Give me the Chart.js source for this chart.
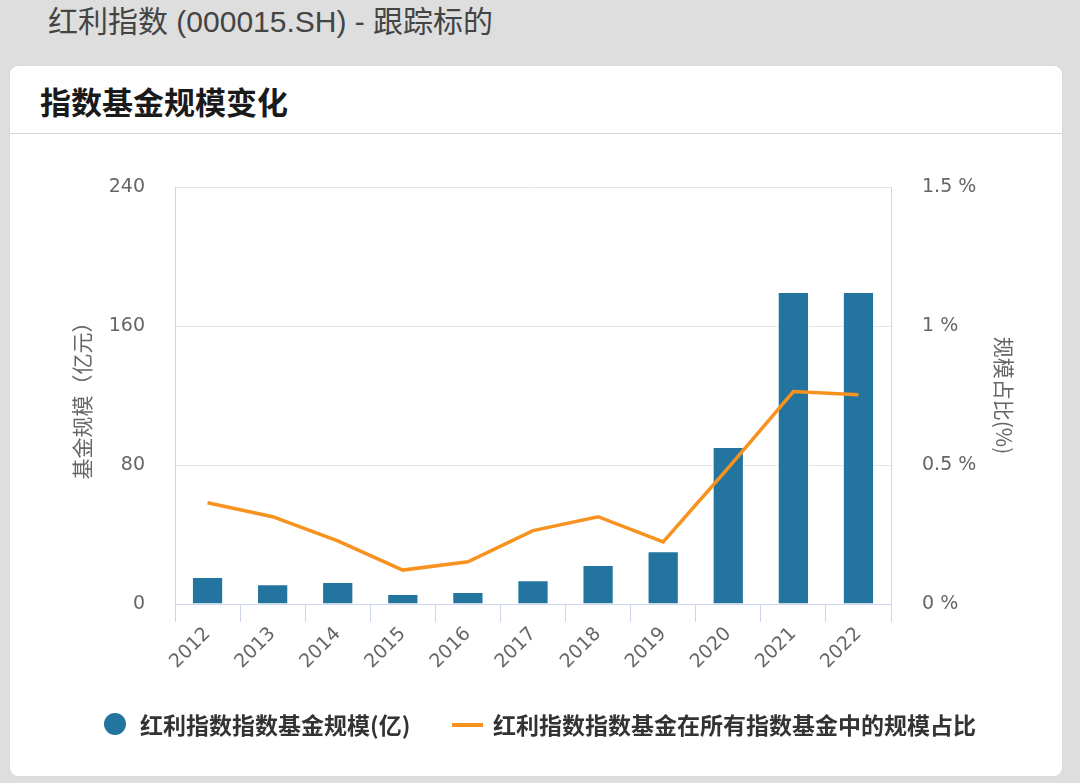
<!DOCTYPE html>
<html><head><meta charset="utf-8">
<script src="https://cdn.jsdelivr.net/npm/chart.js@4.4.1/dist/chart.umd.min.js"></script>
<style>
html,body{margin:0;padding:0;}
body{width:1080px;height:783px;background:#dedede;position:relative;overflow:hidden;font-family:"Liberation Sans","Noto Sans CJK SC",sans-serif;}
#top{position:absolute;left:48px;top:3px;font-size:30px;color:#444;line-height:38px;white-space:nowrap;}
#card{position:absolute;left:10px;top:66px;width:1052px;height:710px;background:#fff;border-radius:8px;box-shadow:0 0 2px rgba(0,0,0,0.08);}
#ctitle{position:absolute;left:30px;top:15px;font-size:31px;font-weight:bold;color:#1a1a1a;font-family:"Noto Sans CJK SC",sans-serif;line-height:40px;white-space:nowrap;}
#divider{position:absolute;left:0;top:67px;width:100%;height:1px;background:#d6d6d6;}
#chart{position:absolute;left:0;top:68px;}
.lg{position:absolute;font-family:"Noto Sans CJK SC",sans-serif;font-weight:bold;font-size:23px;color:#333;line-height:30px;white-space:nowrap;}
#dot{position:absolute;left:94px;top:647px;width:22px;height:22px;border-radius:50%;background:#23749f;}
#dash{position:absolute;left:442px;top:657px;width:31px;height:4px;background:#f7921e;}
</style></head>
<body>
<div id="top">红利指数 (000015.SH) - 跟踪标的</div>
<div id="card">
  <div id="ctitle">指数基金规模变化</div>
  <div id="divider"></div>
  <canvas id="chart" width="1052" height="641"></canvas>
  <div id="dot"></div>
  <div class="lg" style="left:130px;top:643px;">红利指数指数基金规模(亿)</div>
  <div id="dash"></div>
  <div class="lg" style="left:483px;top:643px;">红利指数指数基金在所有指数基金中的规模占比</div>
</div>
<script>
const years = ['2012','2013','2014','2015','2016','2017','2018','2019','2020','2021','2022'];
const fundSize = [15.5, 11.4, 12.6, 5.8, 6.9, 13.7, 22.4, 30.4, 90.4, 179.6, 179.6];
const sharePct = [0.364, 0.314, 0.227, 0.122, 0.152, 0.264, 0.314, 0.223, 0.49, 0.764, 0.753];
const leftTicks = [0, 80, 160, 240];
const rightTicks = [0, 0.5, 1, 1.5];
const seriesNames = ['红利指数指数基金规模(亿)', '红利指数指数基金在所有指数基金中的规模占比'];

const tickFont = {family: 'DejaVu Sans', size: 19};
const titleFont = {family: 'Noto Sans CJK SC', size: 21};
const axisBlue = '#ccd6eb';

new Chart(document.getElementById('chart'), {
  type: 'bar',
  data: {
    labels: years,
    datasets: [
      {type: 'line', label: seriesNames[1], data: sharePct, yAxisID: 'y1', borderColor: '#f7921e', borderWidth: 3.5, pointRadius: 0, tension: 0, order: 0},
      {type: 'bar', label: seriesNames[0], data: fundSize, yAxisID: 'y', backgroundColor: '#23749f', borderColor: 'rgba(255,255,255,0.5)', borderWidth: 1, borderSkipped: 'start', barPercentage: 0.48, categoryPercentage: 1, order: 1}
    ]
  },
  options: {
    responsive: false, animation: false, devicePixelRatio: 1,
    layout: {padding: {top: 53, left: 0, right: 0, bottom: 0}},
    plugins: {legend: {display: false}, tooltip: {enabled: false}},
    scales: {
      x: {
        grid: {display: true, drawOnChartArea: false, drawTicks: true, tickLength: 18, color: axisBlue, offset: true},
        border: {display: true, color: axisBlue},
        ticks: {font: tickFont, color: '#666', maxRotation: 45, minRotation: 45, padding: 1},
        afterFit: s => { s.height = 171; }
      },
      y: {
        position: 'left', min: 0, max: 240,
        afterBuildTicks: s => { s.ticks = leftTicks.map(v => ({value: v})); },
        grid: {color: '#e6e6e6', drawTicks: false},
        border: {display: true, color: axisBlue},
        ticks: {font: tickFont, color: '#666', padding: 30},
        title: {display: true, text: '基金规模（亿元）', font: titleFont, color: '#666', padding: {top: 59, bottom: 0}},
        afterFit: s => { s.width = 165; }
      },
      y1: {
        position: 'right', min: 0, max: 1.5,
        afterBuildTicks: s => { s.ticks = rightTicks.map(v => ({value: v})); },
        grid: {display: false, drawTicks: false},
        border: {display: true, color: axisBlue},
        ticks: {font: tickFont, color: '#666', padding: 31, callback: v => v + ' %'},
        title: {display: true, text: '规模占比(%)', font: titleFont, color: '#666', padding: {top: 45, bottom: 0}},
        afterFit: s => { s.width = 171; }
      }
    }
  }
});
</script>
</body></html>
